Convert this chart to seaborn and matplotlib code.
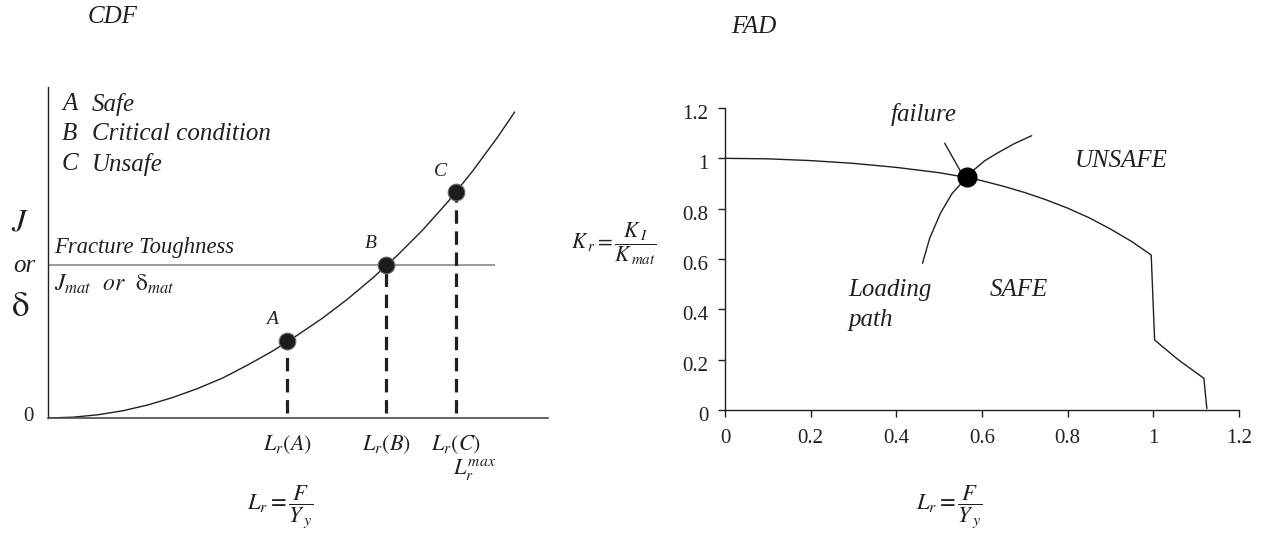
import matplotlib
matplotlib.use("Agg")
import matplotlib.pyplot as plt
import matplotlib.transforms as mtransforms
import seaborn as sns

# ---------------- data: CDF panel (schematic units) ----------------
cdf_lr = [0.0, 0.25, 0.5, 0.75, 1.0, 1.25, 1.5, 1.75, 2.0, 2.25, 2.5, 2.75,
          3.0, 3.25, 3.5, 3.75, 4.0, 4.25, 4.5, 4.67]
cdf_j = [0.0, 0.008, 0.032, 0.072, 0.13, 0.205, 0.295, 0.40, 0.53, 0.67, 0.83,
         1.00, 1.19, 1.40, 1.63, 1.88, 2.16, 2.47, 2.81, 3.06]
pt_names = ["A", "B", "C"]
pt_lr = [2.396, 3.383, 4.08]
pt_j = [0.77, 1.53, 2.26]
toughness = 1.53
legend_keys = ["A", "B", "C"]
legend_desc = ["Safe", "Critical condition", "Unsafe"]
cdf_ticklabels = [r"$L_r(A)$", r"$L_r(B)$", r"$L_r(C)$"]

# ---------------- data: FAD panel ----------------
fad_lr = [0.0, 0.1, 0.2, 0.3, 0.4, 0.5, 0.564, 0.6, 0.65, 0.7, 0.75, 0.8,
          0.85, 0.9, 0.95, 0.995, 1.003, 1.058, 1.118, 1.125]
fad_kr = [1.0, 0.998, 0.991, 0.980, 0.964, 0.943, 0.924, 0.911, 0.889, 0.864,
          0.835, 0.802, 0.764, 0.719, 0.669, 0.616, 0.278, 0.200, 0.126, 0.005]
path_lr = [0.461, 0.478, 0.503, 0.53, 0.564, 0.581, 0.606, 0.636, 0.675, 0.716]
path_kr = [0.583, 0.683, 0.782, 0.86, 0.924, 0.954, 0.99, 1.021, 1.058, 1.090]
fail_lr = [0.513, 0.549]
fail_kr = [1.060, 0.951]
fail_pt_lr = [0.564]
fail_pt_kr = [0.924]
fad_ticks = [0, 0.2, 0.4, 0.6, 0.8, 1.0, 1.2]
fad_ticklabels = ["0", "0.2", "0.4", "0.6", "0.8", "1", "1.2"]

# ---------------- style ----------------
sns.set_theme(style="white")
plt.rcParams["font.family"] = ["Liberation Serif", "DejaVu Serif"]
plt.rcParams["mathtext.fontset"] = "stix"
INK = "#231f20"
TXT = 18

W, H = 1263, 535
fig = plt.figure(figsize=(W / 100, H / 100), dpi=100)


def fx(px):
    return px / W


def fy(py):
    return 1 - py / H


# ================= left panel: CDF =================
ax1 = fig.add_axes([fx(47.7), fy(418), 500 / W, 331 / H])
ax1.set_xlim(0, 5.0)
ax1.set_ylim(0, 3.31)
sns.lineplot(x=cdf_lr, y=cdf_j, sort=False, estimator=None, color=INK,
             lw=1.0, ax=ax1, legend=False)
ax1.hlines(toughness, 0.013, 4.473, color="#8a8a8a", lw=1.2, zorder=2)
ax1.vlines(pt_lr, 0.047, pt_j, color=INK, lw=2.3,
           linestyles=(0, (4.2, 2.4)), zorder=2)
sns.scatterplot(x=pt_lr, y=pt_j, s=12 ** 2, color="#1c1c1c",
                edgecolor="#6a6a6a", linewidth=0.8, ax=ax1, zorder=5,
                legend=False)
for name, xv, yv in zip(pt_names, pt_lr, pt_j):
    ax1.annotate(name, (xv, yv), xytext=(-15, 21), textcoords="offset pixels",
                 ha="center", va="center", fontsize=14, style="italic",
                 color=INK)

for s in ["top", "right"]:
    ax1.spines[s].set_visible(False)
ax1.spines["left"].set_color(INK)
ax1.spines["left"].set_linewidth(1.0)
ax1.spines["bottom"].set_color("#4a4a4a")
ax1.spines["bottom"].set_linewidth(1.2)
ax1.set_xticks(pt_lr, labels=cdf_ticklabels)
ax1.set_yticks([0], labels=["0"])
ax1.tick_params(axis="x", length=0, pad=11, labelsize=16, colors=INK)
ax1.tick_params(axis="y", length=0, pad=10, labelsize=15, colors=INK)
for lab in ax1.get_yticklabels():
    lab.set_transform(lab.get_transform() +
                      mtransforms.ScaledTranslation(0, 4 / 100, fig.dpi_scale_trans))
ax1.grid(False)

# legend texts
for i, (k, d) in enumerate(zip(legend_keys, legend_desc)):
    yy = 104 + 30 * i
    fig.text(fx(62), fy(yy), k, fontsize=TXT, style="italic", color=INK,
             ha="left", va="center")
    fig.text(fx(92), fy(yy), d, fontsize=TXT, style="italic", color=INK,
             ha="left", va="center")

fig.text(fx(54), fy(247), "Fracture Toughness", fontsize=16.3, style="italic",
         color=INK, ha="left", va="center")
fig.text(fx(54), fy(284), r"$J_{mat}$  $\mathit{or}$  $\mathrm{\delta}_{mat}$",
         fontsize=17, color=INK, ha="left", va="center")
fig.text(fx(20), fy(223), r"$J$", fontsize=23, color=INK, ha="center", va="center")
fig.text(fx(24), fy(266), "or", fontsize=18, style="italic", color=INK,
         ha="center", va="center")
fig.text(fx(20), fy(307), r"$\mathrm{\delta}$", fontsize=25, color=INK,
         ha="center", va="center")
fig.text(fx(474), fy(470), r"$L_r^{max}$", fontsize=16, color=INK,
         ha="center", va="center")
fig.text(fx(280), fy(507), r"$L_r = \dfrac{F}{Y_{\,y}}$", fontsize=16.3,
         color=INK, ha="center", va="center")
fig.text(fx(113), fy(17), "CDF", fontsize=TXT, style="italic", color=INK,
         ha="center", va="center")

# ================= right panel: FAD =================
ax2 = fig.add_axes([fx(725), fy(410), 514 / W, 302 / H])
ax2.set_xlim(0, 1.2)
ax2.set_ylim(0, 1.2)
sns.lineplot(x=fad_lr, y=fad_kr, sort=False, estimator=None, color=INK,
             lw=1.0, ax=ax2, legend=False)
sns.lineplot(x=path_lr, y=path_kr, sort=False, estimator=None, color=INK,
             lw=1.0, ax=ax2, legend=False)
sns.lineplot(x=fail_lr, y=fail_kr, sort=False, estimator=None, color=INK,
             lw=1.0, ax=ax2, legend=False)
sns.scatterplot(x=fail_pt_lr, y=fail_pt_kr, s=13.4 ** 2, color="black",
                edgecolor="black", ax=ax2, zorder=5, legend=False)

for s in ["top", "right"]:
    ax2.spines[s].set_visible(False)
for s in ["left", "bottom"]:
    ax2.spines[s].set_color(INK)
    ax2.spines[s].set_linewidth(1.0)
ax2.set_xticks(fad_ticks, labels=fad_ticklabels)
ax2.set_yticks(fad_ticks, labels=fad_ticklabels)
ax2.tick_params(axis="both", direction="out", length=5, width=1.0,
                color=INK, labelcolor=INK, labelsize=15, bottom=True, left=True)
ax2.tick_params(axis="x", pad=9)
ax2.tick_params(axis="y", pad=7)
for lab in ax2.get_yticklabels():
    lab.set_transform(lab.get_transform() +
                      mtransforms.ScaledTranslation(0, -4 / 100, fig.dpi_scale_trans))
ax2.grid(False)

fig.text(fx(924), fy(115), "failure", fontsize=TXT, style="italic", color=INK,
         ha="center", va="center")
fig.text(fx(1121), fy(161), "UNSAFE", fontsize=TXT, style="italic", color=INK,
         ha="center", va="center")
fig.text(fx(1019), fy(290), "SAFE", fontsize=TXT, style="italic", color=INK,
         ha="center", va="center")
fig.text(fx(848), fy(290), "Loading", fontsize=TXT, style="italic", color=INK,
         ha="left", va="center")
fig.text(fx(848), fy(320), "path", fontsize=TXT, style="italic", color=INK,
         ha="left", va="center")
fig.text(fx(754), fy(27), "FAD", fontsize=TXT, style="italic", color=INK,
         ha="center", va="center")
fig.text(fx(614), fy(244), r"$K_{\,r} = \dfrac{K_{\,I}}{K_{\,mat}}$",
         fontsize=15.5, color=INK, ha="center", va="center")
fig.text(fx(949), fy(507), r"$L_r = \dfrac{F}{Y_{\,y}}$", fontsize=16.3,
         color=INK, ha="center", va="center")

fig.savefig("out.png", dpi=100, facecolor="white")
